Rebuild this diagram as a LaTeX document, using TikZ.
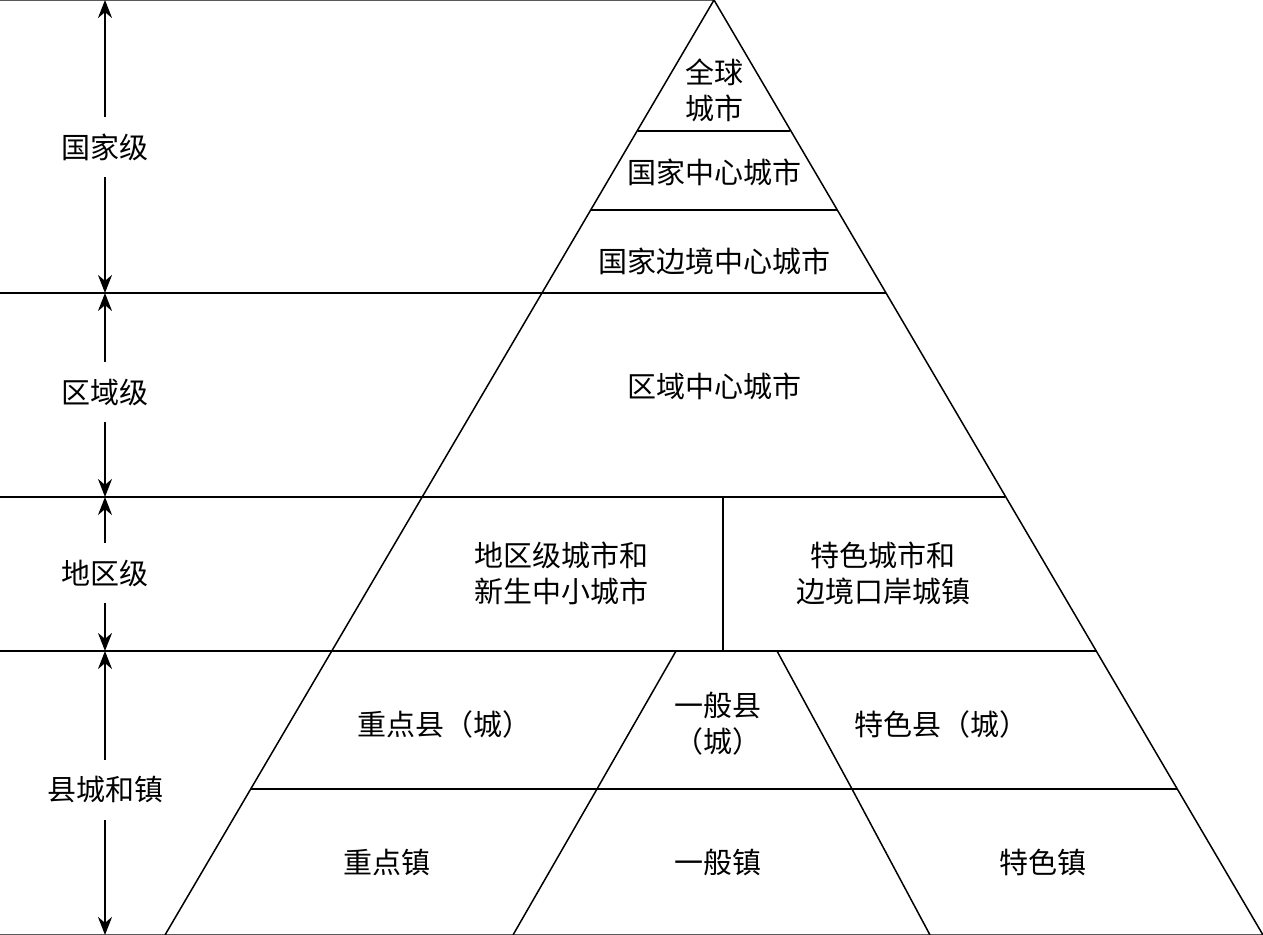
\documentclass[tikz,border=0pt]{standalone}
\usepackage{fontspec}
\setmainfont{Noto Sans CJK SC}
\usetikzlibrary{arrows.meta}
\begin{document}
\begin{tikzpicture}[x=0.5pt,y=-0.5pt,line width=0.75pt,
  lbl/.style={font=\fontsize{14.5}{18}\selectfont,align=center,inner sep=1pt},
  side/.style={lbl,fill=white,inner ysep=8pt},
  arr/.style={-{Stealth[length=9pt,width=7pt]},line width=1pt}]
\useasboundingbox (0,0) rectangle (1263,935);
% apex and base
\coordinate (A) at (714,0);
\coordinate (BL) at (165,935);
\coordinate (BR) at (1263,935);
\coordinate (T0) at (0,0);
\draw (T0) -- (A) -- (BR) -- (0,935) -- (BL) -- (A);
% horizontal lines
\draw (637.8,131) -- (790.2,131);
\draw (590.8,210) -- (837.2,210);
\draw (0,293) -- (886,293);
\draw (0,497) -- (1005,497);
\draw (0,651) -- (1097,651);
\draw (251,789) -- (1177,789);
% dividers
\draw (723,497) -- (723,651);
\draw (676,651) -- (597,789) -- (513,935);
\draw (777,651) -- (852,789) -- (930,935);
% labels in pyramid
\node[lbl] (n1) at (714,90) {全球\\城市};
\node[lbl] (n2) at (714,172) {国家中心城市};
\node[lbl] (n3) at (714,261) {国家边境中心城市};
\node[lbl] (n4) at (714,386) {区域中心城市};
\node[lbl] (n5) at (561,573) {地区级城市和\\新生中小城市};
\node[lbl] (n6) at (883,573) {特色城市和\\边境口岸城镇};
\node[lbl] (n7) at (444,724) {重点县（城）};
\node[lbl] (n8) at (718,724) {一般县\\（城）};
\node[lbl] (n9) at (941,724) {特色县（城）};
\node[lbl] (n10) at (387,862) {重点镇};
\node[lbl] (n11) at (718,862) {一般镇};
\node[lbl] (n12) at (1043,862) {特色镇};
% side labels and arrows
\coordinate (s0) at (105,0);
\coordinate (s1) at (105,293);
\coordinate (s2) at (105,497);
\coordinate (s3) at (105,651);
\coordinate (s4) at (105,935);
\node[side] (L1) at (105,147) {国家级};
\node[side] (L2) at (105,392) {区域级};
\node[side] (L3) at (105,573) {地区级};
\node[side] (L4) at (105,790) {县城和镇};
\draw[arr] (L1) -- (s0); \draw[arr] (L1) -- (s1);
\draw[arr] (L2) -- (s1); \draw[arr] (L2) -- (s2);
\draw[arr] (L3) -- (s2); \draw[arr] (L3) -- (s3);
\draw[arr] (L4) -- (s3); \draw[arr] (L4) -- (s4);
\end{tikzpicture}
\end{document}
